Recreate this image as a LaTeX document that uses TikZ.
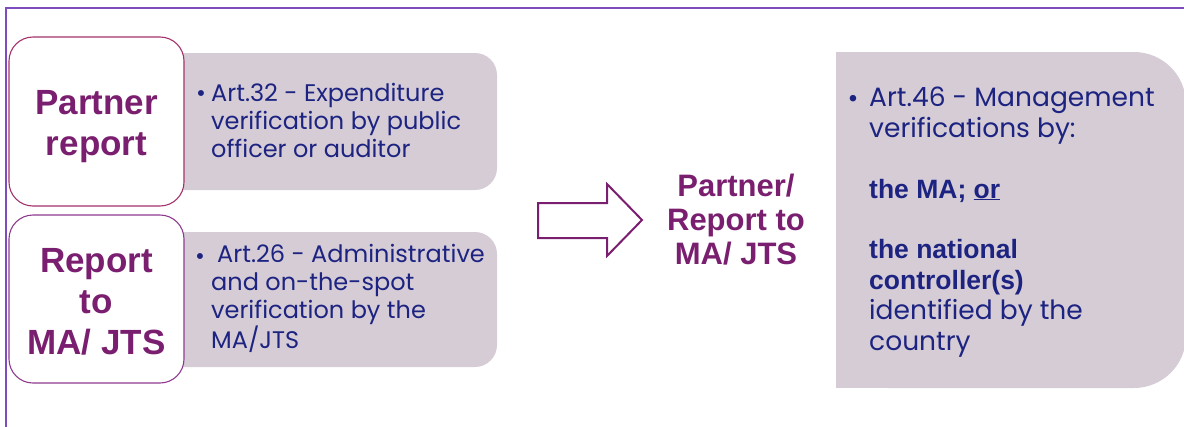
\documentclass[tikz,border=0pt]{standalone}
\usepackage{fontspec}
\setmainfont{Poppins}
\newfontfamily\labelfont{Liberation Sans}
\definecolor{framevio}{HTML}{7E4CBF}
\definecolor{edgeA}{HTML}{A3326A}
\definecolor{edgeB}{HTML}{8E3A8E}
\definecolor{plum}{HTML}{7A1F6F}
\definecolor{panel}{HTML}{D6CCD6}
\definecolor{navy}{HTML}{1C2380}
\tikzset{
  panelbox/.style={fill=panel, rounded corners=22pt, inner sep=0pt, draw=none},
  titlebox/.style={fill=white, line width=1.1pt, rounded corners=24pt, inner sep=0pt,
    minimum width=175pt},
  titletext/.style={text=plum, align=center, inner sep=0pt, anchor=base,
    font=\labelfont\bfseries\fontsize{35}{41}\selectfont},
  bodytext/.style={text=navy, align=left, inner sep=0pt, anchor=base west,
    font=\fontsize{24}{28}\selectfont},
  bigtext/.style={text=navy, align=left, inner sep=0pt, anchor=base west,
    font=\fontsize{26.5}{30.4}\selectfont},
  bulletmark/.style={text=navy, inner sep=0pt, anchor=base},
}
\begin{document}
\begin{tikzpicture}[x=1pt,y=-1pt]
\useasboundingbox (0,0) rectangle (1184,426);

% outer frame (top and left edges)
\draw[framevio, line width=1.8pt] (6,430) -- (6,8) -- (1190,8);

% grey panels behind the title boxes
\node[panelbox, minimum width=347pt, minimum height=137pt] (p1) at (323.5,121.5) {};
\node[panelbox, minimum width=347pt, minimum height=135pt] (p2) at (323.5,299.5) {};

% title boxes
\node[titlebox, draw=edgeA, minimum height=169pt] (t1) at (96.5,121.5) {};
\node[titlebox, draw=edgeB, minimum height=168pt] (t2) at (96.5,299) {};

% multi-line nodes are anchored on the baseline of their last line
\node[titletext] (t1txt) at (96.5,155) {Partner\\report};
\node[titletext] (t2txt) at (96.5,354) {Report\\to\\MA/ JTS};

% bullet texts in the grey panels
\node[bulletmark, font=\fontsize{24}{28}\selectfont] (b1) at (201,101) {•};
\node[bodytext] (p1txt) at (211,157) {Art.32 - Expenditure\\verification by public\\officer or auditor};
\node[bulletmark, font=\fontsize{24}{28}\selectfont] (b2) at (200,264) {•};
\node[bodytext] (p2txt) at (211,348) {\hspace{6pt}Art.26 - Administrative\\and on-the-spot\\verification by the\\MA/JTS};

% block arrow
\draw[plum, line width=2pt, line join=miter]
  (538,203) -- (607,203) -- (607,184) -- (642,220) -- (607,256) -- (607,238) -- (538,238) -- cycle;

% middle label
\node[titletext, font=\labelfont\bfseries\fontsize{31}{34}\selectfont] (mid) at (736,264)
  {Partner/\\Report to\\MA/ JTS};

% right panel: rounded on the right, square on the left
\fill[panel, rounded corners=52pt] (836,52) rectangle (1186,388);
\fill[panel] (836,52) rectangle (920,388);

\node[bulletmark, font=\fontsize{26.5}{30.4}\selectfont] (b3) at (853,107) {•};
\node[bigtext] (rtxt) at (869,350) {Art.46 - Management\\verifications by:\\[30.4pt]
  {\labelfont\bfseries the MA; \underline{or}}\\[30.4pt]
  {\labelfont\bfseries the national}\\
  {\labelfont\bfseries controller(s)}\\
  identified by the\\country};
\end{tikzpicture}
\end{document}
